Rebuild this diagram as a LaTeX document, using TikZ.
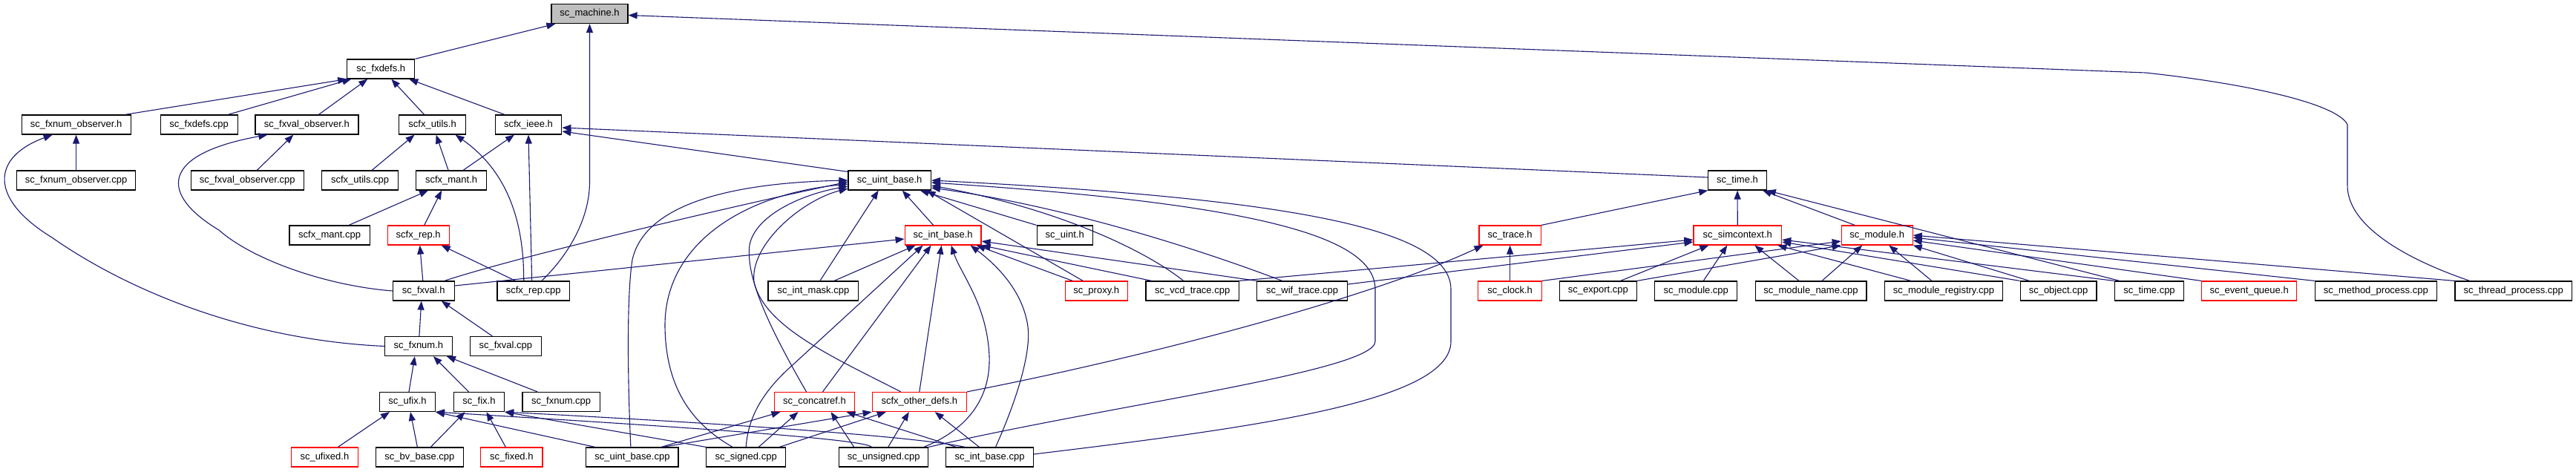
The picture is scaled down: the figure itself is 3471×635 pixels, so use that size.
\documentclass[tikz,border=0pt]{standalone}
\usepackage{fontspec}
\setmainfont{Liberation Sans}
\usepackage{tikz}
\usetikzlibrary{arrows.meta}

\definecolor{edgeblue}{RGB}{25,25,112}
\definecolor{rootgray}{RGB}{191,191,191}

\begin{document}
\begin{tikzpicture}[x=1pt, y=-1pt,
	every node/.style={font=\fontsize{13pt}{15pt}\selectfont, inner sep=0pt, minimum height=26pt},
	filebox/.style={draw=black, line width=1.2pt, fill=white},
	redbox/.style={draw=red, line width=1.2pt, fill=white},
	incl/.style={draw=edgeblue, line width=1.1pt, -{Triangle[length=12pt, width=9pt]}}]
	\useasboundingbox (0,0) rectangle (3471,635);

	% 根节点
	\node[filebox, fill=rootgray, minimum width=103pt] (machine) at (794.5,18.5) {sc\_machine.h};
	\node[filebox, minimum width=91pt] (fxdefsh) at (513.3,93) {sc\_fxdefs.h};

	% 第三层
	\node[filebox, minimum width=147pt] (fxnumobsh) at (102.6,168) {sc\_fxnum\_observer.h};
	\node[filebox, minimum width=104pt] (fxdefscpp) at (268.2,168) {sc\_fxdefs.cpp};
	\node[filebox, minimum width=139pt] (fxvalobsh) at (413.4,168) {sc\_fxval\_observer.h};
	\node[filebox, minimum width=89.5pt] (utilsh) at (582.6,168) {scfx\_utils.h};
	\node[filebox, minimum width=89.5pt] (ieeeh) at (712,168) {scfx\_ieee.h};

	\node[filebox, minimum width=160pt] (fxnumobscpp) at (102.6,243) {sc\_fxnum\_observer.cpp};
	\node[filebox, minimum width=151.7pt] (fxvalobscpp) at (333.3,243) {sc\_fxval\_observer.cpp};
	\node[filebox, minimum width=102.5pt] (utilscpp) at (485.1,243) {scfx\_utils.cpp};
	\node[filebox, minimum width=94.7pt] (manth) at (608.1,243) {scfx\_mant.h};
	\node[filebox, minimum width=111.3pt] (uintbaseh) at (1198.7,243) {sc\_uint\_base.h};
	\node[filebox, minimum width=78.4pt] (timeh) at (2341,243) {sc\_time.h};

	\node[filebox, minimum width=108.4pt] (mantcpp) at (444.1,317) {scfx\_mant.cpp};
	\node[redbox, minimum width=82.9pt] (reph) at (563.7,317) {scfx\_rep.h};
	\node[redbox, minimum width=102.8pt] (intbaseh) at (1270.6,317) {sc\_int\_base.h};
	\node[filebox, minimum width=75.1pt] (uinth) at (1434.7,317) {sc\_uint.h};
	\node[redbox, minimum width=83.2pt] (traceh) at (2034.6,317) {sc\_trace.h};
	\node[redbox, minimum width=118.7pt] (simcontexth) at (2341.3,317) {sc\_simcontext.h};
	\node[redbox, minimum width=95.8pt] (moduleh) at (2529.2,317) {sc\_module.h};

	% 中间一行
	\node[filebox, minimum width=82.9pt] (fxvalh) at (570.8,392) {sc\_fxval.h};
	\node[filebox, minimum width=97.6pt] (repcpp) at (718.7,392) {scfx\_rep.cpp};
	\node[filebox, minimum width=121.7pt] (intmaskcpp) at (1095.9,392) {sc\_int\_mask.cpp};
	\node[redbox, minimum width=84pt] (proxyh) at (1477.2,392) {sc\_proxy.h};
	\node[filebox, minimum width=125.4pt] (vcdcpp) at (1606.7,392) {sc\_vcd\_trace.cpp};
	\node[filebox, minimum width=121.7pt] (wifcpp) at (1754.6,392) {sc\_wif\_trace.cpp};
	\node[redbox, minimum width=85.5pt] (clockh) at (2034.6,392) {sc\_clock.h};
	\node[filebox, minimum width=103.9pt] (exportcpp) at (2153.4,392) {sc\_export.cpp};
	\node[filebox, minimum width=110.9pt] (modulecpp) at (2285.2,392) {sc\_module.cpp};
	\node[filebox, minimum width=149.8pt] (modnamecpp) at (2440,392) {sc\_module\_name.cpp};
	\node[filebox, minimum width=159pt] (modregcpp) at (2618.9,392) {sc\_module\_registry.cpp};
	\node[filebox, minimum width=102.8pt] (objectcpp) at (2773.5,392) {sc\_object.cpp};
	\node[filebox, minimum width=93.5pt] (timecpp) at (2896,392) {sc\_time.cpp};
	\node[redbox, minimum width=128.3pt] (evqueueh) at (3030.6,392) {sc\_event\_queue.h};
	\node[filebox, minimum width=164.3pt] (methodcpp) at (3201.3,392) {sc\_method\_process.cpp};
	\node[filebox, minimum width=157.6pt] (threadcpp) at (3386.7,392) {sc\_thread\_process.cpp};

	% 下面三行
	\node[filebox, minimum width=90.6pt] (fxnumh) at (563.9,466.5) {sc\_fxnum.h};
	\node[filebox, minimum width=96.1pt] (fxvalcpp) at (681.4,466.5) {sc\_fxval.cpp};

	\node[filebox, minimum width=74.7pt] (ufixh) at (549,541.5) {sc\_ufix.h};
	\node[filebox, minimum width=68.1pt] (fixh) at (645.5,541.5) {sc\_fix.h};
	\node[filebox, minimum width=104.3pt] (fxnumcpp) at (756.1,541.5) {sc\_fxnum.cpp};
	\node[redbox, minimum width=108pt] (concatrefh) at (1097.5,541.5) {sc\_concatref.h};
	\node[redbox, minimum width=127.2pt] (otherdefsh) at (1238.8,541.5) {scfx\_other\_defs.h};

	\node[redbox, minimum width=89.9pt] (ufixedh) at (437.4,616) {sc\_ufixed.h};
	\node[filebox, minimum width=118pt] (bvbasecpp) at (565.4,616) {sc\_bv\_base.cpp};
	\node[redbox, minimum width=83.2pt] (fixedh) at (689.3,616) {sc\_fixed.h};
	\node[filebox, minimum width=124.3pt] (uintbasecpp) at (851.9,616) {sc\_uint\_base.cpp};
	\node[filebox, minimum width=106.9pt] (signedcpp) at (1005.2,616) {sc\_signed.cpp};
	\node[filebox, minimum width=119.8pt] (unsignedcpp) at (1190.7,616) {sc\_unsigned.cpp};
	\node[filebox, minimum width=117.6pt] (intbasecpp) at (1333.5,616) {sc\_int\_base.cpp};

	% 指向 sc_machine.h
	\draw[incl] (fxdefsh.north east) -- ([xshift=6pt]machine.south west);
	\draw[incl] ([xshift=11pt]repcpp.north) .. controls (760,350) and (794.5,300) .. (794.5,245) -- (machine.south);
	\draw[incl] ([xshift=-59pt]threadcpp.north) .. controls (3230,345) and (3163,300) .. (3163,250) -- (3163,168)
		.. controls (3150,140) and (3030,113) .. (2891,98) -- ([yshift=-2pt]machine.east);

	% 指向 sc_fxdefs.h
	\draw[incl] ([xshift=66pt]fxnumobsh.north) -- (fxdefsh.south west);
	\draw[incl] ([xshift=39pt]fxdefscpp.north) -- ([xshift=-40pt]fxdefsh.south);
	\draw[incl] ([xshift=16pt]fxvalobsh.north) -- ([xshift=-18pt]fxdefsh.south);
	\draw[incl] ([xshift=-11pt]utilsh.north) -- ([xshift=14pt]fxdefsh.south);
	\draw[incl] ([xshift=-32pt]ieeeh.north) -- ([xshift=38pt]fxdefsh.south);

	% observer
	\draw[incl] (fxnumobscpp) -- (fxnumobsh);
	\draw[incl] (fxnumh.west) .. controls (330,458) and (170,390) .. (70,320)
		.. controls (-15,268) and (-12,212) .. ([xshift=-32pt]fxnumobsh.south);
	\draw[incl] ([xshift=13pt]fxvalobscpp.north) -- ([xshift=-18pt]fxvalobsh.south);
	\draw[incl] (fxvalh.west) .. controls (440,385) and (340,350) .. (295,310)
		.. controls (215,262) and (215,208) .. ([xshift=-53pt]fxvalobsh.south);

	% scfx_utils.h, scfx_ieee.h
	\draw[incl] ([xshift=16pt]utilscpp.north) -- ([xshift=-24pt]utilsh.south);
	\draw[incl] ([xshift=-4pt]manth.north) -- ([xshift=5pt]utilsh.south);
	\draw[incl] ([xshift=-13pt]repcpp.north) .. controls (706,310) and (690,235) .. ([xshift=31pt]utilsh.south);
	\draw[incl] ([xshift=16pt]manth.north) -- ([xshift=-19pt]ieeeh.south);
	\draw[incl] ([xshift=-2pt]repcpp.north) -- (ieeeh.south);
	\draw[incl] ([yshift=-2pt]uintbaseh.north west) -- ([yshift=-9pt]ieeeh.east);
	\draw[incl] ([yshift=4pt]timeh.west) -- ([yshift=-4pt]ieeeh.east);

	% scfx_mant.h, scfx_rep.h, sc_fxval.h
	\draw[incl] ([xshift=26pt]mantcpp.north) -- ([xshift=-31pt]manth.south);
	\draw[incl] ([xshift=8pt]reph.north) -- ([xshift=-13pt]manth.south);
	\draw[incl] ([xshift=-24pt]repcpp.north) -- ([xshift=31pt]reph.south);
	\draw[incl] ([xshift=-1pt]fxvalh.north) -- ([xshift=2pt]reph.south);
	\draw[incl] ([xshift=-18pt]fxvalcpp.north) -- ([xshift=24pt]fxvalh.south);
	\draw[incl] ([xshift=1pt]fxnumh.north) -- ([xshift=-3pt]fxvalh.south);
	\draw[incl] ([xshift=28pt]fxvalh.north) .. controls (700,345) and (1000,275) .. ([yshift=-2pt]uintbaseh.west);
	\draw[incl] ([yshift=7pt]fxvalh.east) -- ([yshift=-5pt]intbaseh.west);

	% sc_fxnum.h, sc_ufix.h, sc_fix.h
	\draw[incl] ([xshift=2pt]ufixh.north) -- ([xshift=-5pt]fxnumh.south);
	\draw[incl] ([xshift=-14pt]fixh.north) -- ([xshift=20pt]fxnumh.south);
	\draw[incl] ([xshift=-32pt]fxnumcpp.north) -- ([xshift=38pt]fxnumh.south);
	\draw[incl] ([xshift=18pt]ufixedh.north) -- ([xshift=-24pt]ufixh.south);
	\draw[incl] ([xshift=-3pt]bvbasecpp.north) -- ([xshift=4pt]ufixh.south);
	\draw[incl] ([xshift=15pt]bvbasecpp.north) -- ([xshift=-19pt]fixh.south);
	\draw[incl] ([xshift=-8pt]fixedh.north) -- ([xshift=10pt]fixh.south);
	\draw[incl] ([xshift=-50pt]uintbasecpp.north) -- (ufixh.south east);
	\draw[incl] ([xshift=-16pt]unsignedcpp.north) .. controls (1165,593) and (1000,580) .. (ufixh.south east);
	\draw[incl] (signedcpp.north west) -- (fixh.south east);
	\draw[incl] ([xshift=-33pt]intbasecpp.north) .. controls (1230,588) and (1000,572) .. (fixh.south east);

	% sc_concatref.h, scfx_other_defs.h
	\draw[incl] ([xshift=39pt]uintbasecpp.north) -- ([xshift=-46pt]concatrefh.south);
	\draw[incl] ([xshift=17pt]signedcpp.north) -- ([xshift=-22pt]concatrefh.south);
	\draw[incl] ([xshift=-40pt]unsignedcpp.north) -- ([xshift=22pt]concatrefh.south);
	\draw[incl] ([xshift=-45pt]intbasecpp.north) -- ([xshift=43pt]concatrefh.south);
	\draw[incl] ([xshift=41pt]uintbasecpp.north) -- (otherdefsh.south west);
	\draw[incl] ([xshift=45pt]signedcpp.north) -- ([xshift=-45pt]otherdefsh.south);
	\draw[incl] ([xshift=6pt]unsignedcpp.north) -- ([xshift=-14pt]otherdefsh.south);
	\draw[incl] ([xshift=-14pt]intbasecpp.north) -- ([xshift=21pt]otherdefsh.south);

	% sc_trace.h, sc_time.h
	\draw[incl] (otherdefsh.north east) .. controls (1550,480) and (1850,400) .. ([xshift=6pt]traceh.south west);
	\draw[incl] (clockh) -- (traceh);
	\draw[incl] (traceh.north east) -- (timeh.south west);
	\draw[incl] (simcontexth) -- (timeh);
	\draw[incl] ([xshift=-30pt]moduleh.north) -- ([xshift=34pt]timeh.south);
	\draw[incl] ([xshift=-40pt]timecpp.north) -- (timeh.south east);

	% 指向 sc_int_base.h
	\draw[incl] ([xshift=28pt]intmaskcpp.north) -- ([xshift=-37pt]intbaseh.south);
	\draw[incl] ([xshift=11pt]concatrefh.north) -- ([xshift=-16pt]intbaseh.south);
	\draw[incl] (signedcpp.north) .. controls (1008,560) and (1030,525) .. (1070,490) -- ([xshift=-27pt]intbaseh.south);
	\draw[incl] (otherdefsh.north) -- ([xshift=-2pt]intbaseh.south);
	\draw[incl] ([xshift=54pt]unsignedcpp.north) .. controls (1300,580) and (1335,540) .. (1333,480)
		.. controls (1330,410) and (1295,370) .. ([xshift=11pt]intbaseh.south);
	\draw[incl] ([xshift=8pt]intbasecpp.north) .. controls (1365,550) and (1390,480) .. (1385,440)
		.. controls (1378,390) and (1340,355) .. ([xshift=37pt]intbaseh.south);
	\draw[incl] ([xshift=-32pt]proxyh.north) -- ([xshift=45pt]intbaseh.south);
	\draw[incl] ([xshift=-55pt]vcdcpp.north) -- (intbaseh.south east);
	\draw[incl] (wifcpp.north west) -- ([yshift=-8pt]intbaseh.east);

	% 指向 sc_uint_base.h
	\draw[incl] ([xshift=-13pt]intbaseh.north) -- ([xshift=17pt]uintbaseh.south);
	\draw[incl] (uinth.north west) -- ([xshift=41pt]uintbaseh.south);
	\draw[incl] ([xshift=-18pt]proxyh.north) -- ([xshift=50pt]uintbaseh.south);
	\draw[incl] ([xshift=9pt]intmaskcpp.north) -- ([xshift=-15pt]uintbaseh.south);
	\draw[incl] ([xshift=-12pt]vcdcpp.north) .. controls (1540,335) and (1420,280) .. ([yshift=-7pt]uintbaseh.east);
	\draw[incl] ([xshift=-27pt]wifcpp.north) .. controls (1640,345) and (1450,280) .. ([yshift=-10pt]uintbaseh.east);
	\draw[incl] ([xshift=-2pt]uintbasecpp.north) .. controls (846,520) and (844,400) .. (852,350)
		.. controls (870,270) and (1000,246) .. (uintbaseh.west);
	\draw[incl] ([xshift=-18pt]signedcpp.north) .. controls (930,570) and (897,520) .. (896,440)
		.. controls (895,330) and (1000,262) .. ([yshift=-5pt]uintbaseh.west);
	\draw[incl] ([xshift=-11pt]concatrefh.north) .. controls (1030,430) and (1005,370) .. (1010,330)
		.. controls (1018,290) and (1080,262) .. ([yshift=-8pt]uintbaseh.west);
	\draw[incl] ([xshift=-25pt]otherdefsh.north) .. controls (1120,480) and (1030,440) .. (1016,380)
		.. controls (1010,330) and (1080,270) .. ([yshift=-11pt]uintbaseh.west);
	\draw[incl] (unsignedcpp.north east) .. controls (1500,545) and (1853,500) .. (1853,460) -- (1853,390)
		.. controls (1853,320) and (1700,275) .. ([yshift=-3pt]uintbaseh.east);
	\draw[incl] ([yshift=4pt]intbasecpp.east) .. controls (1700,575) and (1955,540) .. (1955,460) -- (1955,390)
		.. controls (1955,310) and (1750,268) .. (uintbaseh.east);

	% 指向 sc_simcontext.h
	\draw[incl] (vcdcpp.north east) -- ([yshift=-6pt]simcontexth.west);
	\draw[incl] ([yshift=9pt]wifcpp.east) -- ([yshift=-9pt]simcontexth.west);
	\draw[incl] ([xshift=30pt]exportcpp.north) -- ([xshift=-39pt]simcontexth.south);
	\draw[incl] ([xshift=10pt]modulecpp.north) -- ([xshift=-14pt]simcontexth.south);
	\draw[incl] ([xshift=-16pt]modnamecpp.north) -- ([xshift=23pt]simcontexth.south);
	\draw[incl] ([xshift=-44pt]modregcpp.north) -- ([xshift=54pt]simcontexth.south);
	\draw[incl] (objectcpp.north west) -- ([yshift=-9pt]simcontexth.east);
	\draw[incl] (timecpp.north west) -- ([yshift=-6pt]simcontexth.east);

	% 指向 sc_module.h
	\draw[incl] (clockh.north east) -- ([yshift=-8pt]moduleh.west);
	\draw[incl] (exportcpp.north east) -- (moduleh.south west);
	\draw[incl] ([xshift=15pt]modnamecpp.north) -- ([xshift=-20pt]moduleh.south);
	\draw[incl] ([xshift=-16pt]modregcpp.north) -- ([xshift=16pt]moduleh.south);
	\draw[incl] ([xshift=-39pt]objectcpp.north) -- (moduleh.south east);
	\draw[incl] (evqueueh.north west) -- ([yshift=-7pt]moduleh.east);
	\draw[incl] (methodcpp.north west) -- ([yshift=-3pt]moduleh.east);
	\draw[incl] (threadcpp.north west) -- (moduleh.east);

\end{tikzpicture}
\end{document}
